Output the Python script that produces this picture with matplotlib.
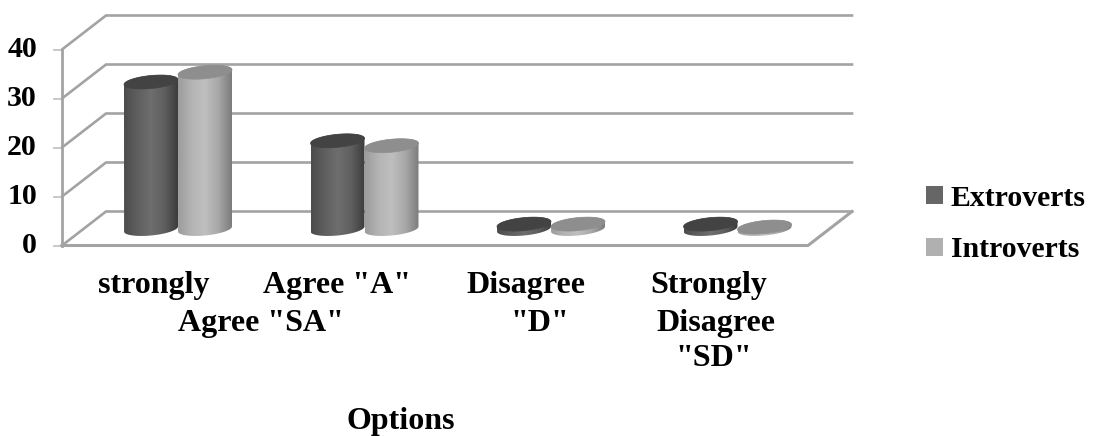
import numpy as np
import matplotlib
matplotlib.use("Agg")
import matplotlib.pyplot as plt
from matplotlib.patches import Polygon, Patch
from matplotlib.colors import LinearSegmentedColormap

categories = [['strongly', 'Agree "SA"'], ['Agree "A"'], ['Disagree', '"D"'], ['Strongly', 'Disagree', '"SD"']]
extroverts = [30, 18, 1, 1]
introverts = [32, 17, 1, 0.4]
y_ticks = [0, 10, 20, 30, 40]
axis_title = 'Options'

W, H = 1093, 436
X0, STEP = 178.0, 186.5      # pixel of category 0, pixels per category
Y0, SCALE = 245.5, 4.9       # pixel of value 0, pixels per value unit
DX, DY = 44.0, 34.0          # depth of the floor
BASE = 16.5 / SCALE          # cylinders stand inside the floor
BAR_W = 54.0 / STEP
GREY = '#a3a3a3'
FONT = 'Liberation Serif'

fig = plt.figure(figsize=(W / 100, H / 100), dpi=100)
ax = fig.add_axes([0, 0, 1, 1])
ax.axis('off')

xl = (62 - X0) / STEP
xr = (808 - X0) / STEP
ddx, ddy = DX / STEP, DY / SCALE

# walls and floor
for t in y_ticks:
    ax.plot([xl, xl + ddx, xr + ddx], [t, t + ddy, t + ddy], color=GREY, lw=1.9, zorder=1, solid_joinstyle='miter')
    ax.plot([xl - 8 / STEP, xl], [t, t], color='#c4c4c4', lw=1.3, zorder=1)
    ax.text(xl - 25 / STEP, t, str(t), ha='right', va='center', fontsize=21.5, fontweight='bold', family=FONT)
ax.plot([xl, xl], [y_ticks[0], y_ticks[-1]], color=GREY, lw=2.0, zorder=1)
ax.plot([xl, xr, xr + ddx], [0, 0, ddy], color=GREY, lw=2.2, zorder=1)

dark = LinearSegmentedColormap.from_list('d', ['#4c4c4c', '#5f5f5f', '#6e6e6e', '#5f5f5f', '#3c3c3c'])
light = LinearSegmentedColormap.from_list('l', ['#9c9c9c', '#b4b4b4', '#bfbfbf', '#a8a8a8', '#7c7c7c'])

THETA = np.linspace(0, 2 * np.pi, 81)


def ellipse(cx, cy):
    a, b, tilt = BAR_W / 2, 6.5 / SCALE, 2.5 / SCALE
    return cx + a * np.cos(THETA), cy + b * np.sin(THETA) + tilt * np.cos(THETA)


def cylinder(cx, value, cmap, top, z):
    ex, ey = ellipse(cx, BASE)
    tx, ty = ellipse(cx, BASE + value)
    low = np.sin(THETA) < 0
    bx, by = ex[low], ey[low]
    ux, uy = tx[~low], ty[~low]
    order = np.argsort(bx)
    bx, by = bx[order], by[order]
    order = np.argsort(-ux)
    ux, uy = ux[order], uy[order]
    poly = Polygon(np.c_[np.r_[bx, ux], np.r_[by, uy]], closed=True, fc='none', ec='none')
    ax.add_patch(poly)
    grad = np.linspace(0, 1, 128).reshape(1, -1)
    im = ax.imshow(grad, cmap=cmap, aspect='auto', zorder=z, vmin=0, vmax=1,
                   extent=[cx - BAR_W / 2, cx + BAR_W / 2, BASE - 10 / SCALE, BASE + value + 10 / SCALE])
    im.set_clip_path(poly)
    ax.add_patch(Polygon(np.c_[tx, ty], closed=True, fc=top, ec=top, lw=0.5, zorder=z + 0.1))


for i, (e, n) in enumerate(zip(extroverts, introverts)):
    cylinder(i - BAR_W / 2, e, dark, '#434343', 3)
    cylinder(i + BAR_W / 2, n, light, '#8e8e8e', 4)
ax.set_xlim(-X0 / STEP, (W - X0) / STEP)
ax.set_ylim((Y0 - H) / SCALE, Y0 / SCALE)

label_px = [[(153.5, 293), (261, 331)], [(337, 293)], [(526, 293), (540, 331)], [(709, 293), (716, 331), (714, 366)]]
for lines, places in zip(categories, label_px):
    for s, (px, py) in zip(lines, places):
        ax.text((px - X0) / STEP, (Y0 - py) / SCALE, s, ha='center', va='baseline', fontsize=23, fontweight='bold', family=FONT)
ax.text((401 - X0) / STEP, (Y0 - 429) / SCALE, axis_title, ha='center', va='baseline', fontsize=23, fontweight='bold', family=FONT)

handles = [Patch(fc='#666666', ec='none', label='Extroverts'), Patch(fc='#b0b0b0', ec='none', label='Introverts')]
fig.legend(handles=handles, loc='center left', bbox_to_anchor=(899 / W, 1 - 224 / H), frameon=False,
           handlelength=0.57, handleheight=0.57, handletextpad=0.27, labelspacing=0.82,
           prop={'family': FONT, 'weight': 'bold', 'size': 21.4})

fig.savefig('out.png', dpi=100)
